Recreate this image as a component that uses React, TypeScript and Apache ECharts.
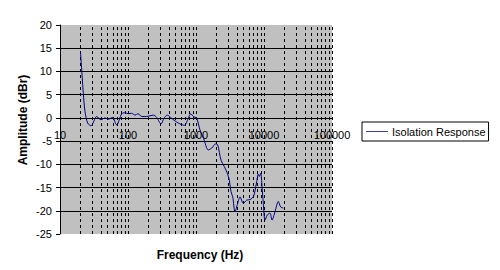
import React, { useEffect, useRef } from "react";
import * as echarts from "echarts";

const frequencies = [
  20, 22, 23.3, 25.5, 28.6, 34.7, 40, 46, 51, 59, 68, 81, 90, 101, 113, 127, 140, 159, 188,
  236, 264, 306, 338, 378, 439, 520, 582, 673, 771, 836, 913, 1023, 1145, 1300, 1516, 1701,
  1949, 2085, 2333, 2608, 2886, 3090, 3273, 3467, 3750, 4104, 4436, 4966, 5570, 6227, 6966,
  7379, 7812, 8246, 8531, 8940, 9350, 9770, 10350, 11190, 12250, 13120, 14520, 16230, 17620,
  19240,
];
const amplitudes = [
  14.3, 5.4, 1.4, -1.1, -1.7, 0.3, -0.4, 0.0, -0.3, 0.1, -1.5, 0.9, 1.1, 0.9, 1.0, 0.6, 0.9,
  0.3, 0.3, 0.6, 0.1, -1.3, -0.1, 0.6, -0.1, -0.9, -1.3, -1.6, -0.1, 0.9, 0.3, -0.1, -2.6,
  -4.5, -6.9, -6.5, -5.6, -5.8, -9.1, -10.5, -11.9, -13.4, -15.9, -17.0, -20.2, -18.4, -17.0,
  -18.4, -17.7, -17.6, -17.0, -15.7, -13.7, -12.1, -12.6, -11.9, -14.8, -18.4, -22.0, -20.9,
  -20.5, -22.0, -20.2, -18.0, -19.2, -19.4,
];
const verticalGridFreqs = [
  20, 30, 40, 50, 60, 70, 80, 90, 100,
  200, 300, 400, 500, 600, 700, 800, 900, 1000,
  2000, 3000, 4000, 5000, 6000, 7000, 8000, 9000, 10000,
  20000, 30000, 40000, 50000, 60000, 70000, 80000, 90000, 100000,
];
const seriesName = "Isolation Response";
const xTitle = "Frequency (Hz)";
const yTitle = "Amplitude (dBr)";

export default function App() {
  const ref = useRef<HTMLDivElement>(null);
  useEffect(() => {
    if (!ref.current) return;
    const chart = echarts.init(ref.current, null, { renderer: "svg" });
    const font = "Liberation Sans, Arial, sans-serif";
    const gridTop = 25;
    const gridHeight = 209;
    const yMin = -25;
    const yMax = 20;
    // distance of the zero line above the bottom of the plot
    const zeroOffset = (gridHeight * (0 - yMin)) / (yMax - yMin);
    chart.setOption({
      animation: false,
      backgroundColor: "#ffffff",
      textStyle: { fontFamily: font, color: "#000" },
      grid: {
        left: 60,
        top: gridTop,
        width: 272,
        height: gridHeight,
        show: true,
        backgroundColor: "#c0c0c0",
        borderWidth: 0,
      },
      legend: {
        left: 362,
        top: 122,
        orient: "horizontal",
        padding: [4, 3, 4, 4],
        borderColor: "#000",
        borderWidth: 1,
        itemWidth: 22,
        itemHeight: 1,
        itemGap: 4,
        data: [{ name: seriesName, icon: "rect" }],
        itemStyle: { color: "#4040a0" },
        textStyle: { fontFamily: font, fontSize: 11, color: "#000", padding: [0, 0, 0, -1] },
      },
      xAxis: {
        type: "log",
        logBase: 10,
        min: 10,
        max: 100000,
        position: "bottom",
        offset: -zeroOffset,
        axisLine: { onZero: false, lineStyle: { color: "#000", width: 1 } },
        axisTick: { show: false },
        splitLine: { show: false },
        axisLabel: {
          fontFamily: font,
          fontSize: 11,
          color: "#000",
          margin: 12,
          formatter: (v: number) => String(Math.round(v)),
        },
      },
      yAxis: {
        type: "value",
        min: yMin,
        max: yMax,
        interval: 5,
        axisLine: { show: true, lineStyle: { color: "#000", width: 1 } },
        axisTick: { show: true, length: 4, lineStyle: { color: "#000" } },
        splitLine: {
          show: true,
          showMinLine: false,
          showMaxLine: false,
          lineStyle: { color: "#000", width: 1 },
        },
        axisLabel: { fontFamily: font, fontSize: 11, color: "#000", margin: 8 },
      },
      graphic: [
        {
          type: "text",
          x: 200,
          y: 255,
          style: {
            text: xTitle,
            fontFamily: font,
            fontSize: 12,
            fontWeight: "bold",
            fill: "#000",
            align: "center",
            verticalAlign: "middle",
          },
        },
        {
          type: "text",
          x: 23,
          y: 120,
          rotation: Math.PI / 2,
          style: {
            text: yTitle,
            fontFamily: font,
            fontSize: 12,
            fontWeight: "bold",
            fill: "#000",
            align: "center",
            verticalAlign: "middle",
          },
        },
      ],
      series: [
        {
          name: seriesName,
          type: "line",
          data: frequencies.map((f, i) => [f, amplitudes[i]]),
          showSymbol: false,
          smooth: 0.3,
          color: "#000080",
          lineStyle: { color: "#000080", width: 1 },
          z: 5,
          markLine: {
            silent: true,
            symbol: "none",
            label: { show: false },
            lineStyle: { color: "#000", width: 1, type: [3, 3] },
            data: verticalGridFreqs.map((f) => ({ xAxis: f })),
            z: 1,
          },
        },
      ],
    });
    return () => chart.dispose();
  }, []);
  return (
    <div
      ref={ref}
      style={{ position: "fixed", left: 0, top: 0, width: 500, height: 270 }}
    />
  );
}
